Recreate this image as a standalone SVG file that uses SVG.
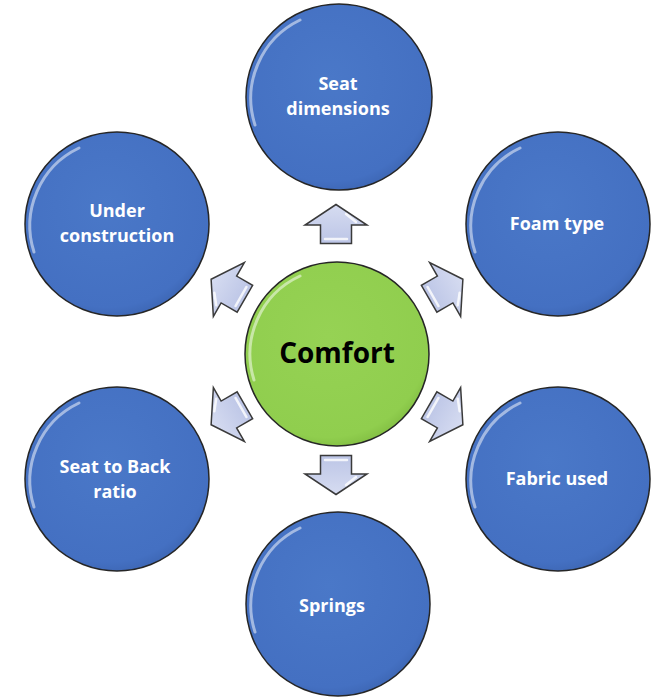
<svg xmlns="http://www.w3.org/2000/svg" width="655" height="698" viewBox="0 0 655 698">
<defs>
<radialGradient id="gBlue" cx="0.45" cy="0.4" r="0.65">
<stop offset="0" stop-color="#4a78c8"/>
<stop offset="0.85" stop-color="#4470c2"/>
<stop offset="1" stop-color="#3a62ae"/>
</radialGradient>
<radialGradient id="gGreen" cx="0.45" cy="0.4" r="0.65">
<stop offset="0" stop-color="#96d254"/>
<stop offset="0.85" stop-color="#90ce4e"/>
<stop offset="1" stop-color="#7cb83e"/>
</radialGradient>
<linearGradient id="gArrow" x1="0" y1="0" x2="1" y2="0">
<stop offset="0" stop-color="#bcc5e6"/>
<stop offset="1" stop-color="#d6dcf1"/>
</linearGradient>
<path id="arrowShape" d="M19.5,0 L-1,-31 L-1,-15.5 L-19.5,-15.5 L-19.5,15.5 L-1,15.5 L-1,31 Z"/>
</defs>
<style>
.sat{fill:url(#gBlue);stroke:#262626;stroke-width:1.5}
.hub{fill:url(#gGreen);stroke:#262626;stroke-width:1.5}
.gloss{fill:none;stroke:#ffffff;stroke-opacity:0.5;stroke-width:3;stroke-linecap:round}
.lbl{font-family:"Open Sans","Liberation Sans",sans-serif;font-weight:bold;font-size:18px;fill:#ffffff;text-anchor:middle}
.hubl{font-family:"Open Sans","Liberation Sans",sans-serif;font-weight:bold;font-size:28px;fill:#000000;text-anchor:middle}
.arr{fill:url(#gArrow);stroke:#3a3a3a;stroke-width:1.5;stroke-linejoin:miter}
.arrhl{fill:none;stroke:#ffffff;stroke-opacity:0.8;stroke-width:2.5;stroke-linecap:round}
</style>
<g id="connectors">
<g transform="translate(336,224) rotate(-90)"><use href="#arrowShape" class="arr"/><path class="arrhl" d="M-15,-11 L-15,11 M2,20 L10,10"/></g>
<g transform="translate(336,475) rotate(90)"><use href="#arrowShape" class="arr"/><path class="arrhl" d="M-15,11 L-15,-11 M2,-20 L10,-10"/></g>
<g transform="translate(446,289) rotate(-30)"><use href="#arrowShape" class="arr"/><path class="arrhl" d="M-15,-11 L-15,11 M2,20 L10,10"/></g>
<g transform="translate(228,289) rotate(-150)"><use href="#arrowShape" class="arr"/><path class="arrhl" d="M-15,11 L-15,-11 M2,-20 L10,-10"/></g>
<g transform="translate(446,415) rotate(30)"><use href="#arrowShape" class="arr"/><path class="arrhl" d="M-15,11 L-15,-11 M2,-20 L10,-10"/></g>
<g transform="translate(228,415) rotate(150)"><use href="#arrowShape" class="arr"/><path class="arrhl" d="M-15,-11 L-15,11 M2,20 L10,10"/></g>
</g>
<g id="hub">
<circle class="hub" cx="337" cy="354" r="92"/>
<path class="gloss" d="M254,380 A86,86 0 0 1 300,276"/>
<text class="hubl" x="337" y="363">Comfort</text>
</g>
<g id="seat-dimensions">
<circle class="sat" cx="339" cy="97" r="93"/>
<path class="gloss" d="M255,125 A87,87 0 0 1 300,20"/>
<text class="lbl" x="338" y="90">Seat</text>
<text class="lbl" x="338" y="115">dimensions</text>
</g>
<g id="foam-type">
<circle class="sat" cx="558" cy="224" r="92"/>
<path class="gloss" d="M475,252 A86,86 0 0 1 520,148"/>
<text class="lbl" x="557" y="230">Foam type</text>
</g>
<g id="fabric-used">
<circle class="sat" cx="558" cy="479" r="92"/>
<path class="gloss" d="M475,507 A86,86 0 0 1 520,403"/>
<text class="lbl" x="557" y="485">Fabric used</text>
</g>
<g id="springs">
<circle class="sat" cx="338" cy="604" r="92"/>
<path class="gloss" d="M255,632 A86,86 0 0 1 300,528"/>
<text class="lbl" x="332" y="612">Springs</text>
</g>
<g id="seat-to-back-ratio">
<circle class="sat" cx="117" cy="479" r="92"/>
<path class="gloss" d="M34,507 A86,86 0 0 1 79,403"/>
<text class="lbl" x="115" y="473">Seat to Back</text>
<text class="lbl" x="115" y="498">ratio</text>
</g>
<g id="under-construction">
<circle class="sat" cx="117" cy="224" r="92"/>
<path class="gloss" d="M34,252 A86,86 0 0 1 79,148"/>
<text class="lbl" x="117" y="217">Under</text>
<text class="lbl" x="117" y="242">construction</text>
</g>
</svg>
